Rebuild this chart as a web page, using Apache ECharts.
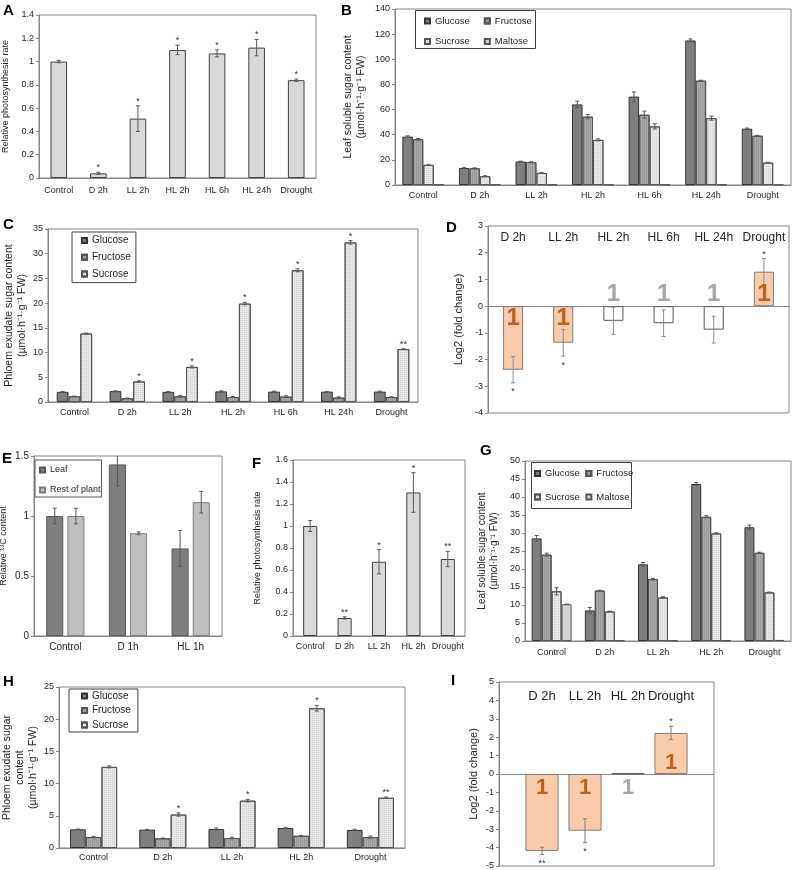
<!DOCTYPE html>
<html><head><meta charset="utf-8">
<script src="https://cdn.jsdelivr.net/npm/echarts@6/dist/echarts.min.js"></script>
<style>html,body{margin:0;padding:0;background:#fff}#c{width:793px;height:870px}</style>
</head><body><div id="c"></div><script>
// ---------------- DATA ----------------
const catsA = ['Control','D 2h','LL 2h','HL 2h','HL 6h','HL 24h','Drought'];
const rateA = [1.00,0.04,0.51,1.10,1.07,1.12,0.84];
const rateAErr = [0.01,0.01,0.11,0.04,0.03,0.07,0.01];
const rateASig = ['','*','*','*','*','*','*'];

const catsB = ['Control','D 2h','LL 2h','HL 2h','HL 6h','HL 24h','Drought'];
const glcB = [38.5,13.5,18.7,64.1,70.3,115.0,44.8];
const glcBErr = [0.6,0.3,0.3,2.5,3.7,1.2,0.5];
const fruB = [36.4,13.3,18.2,54.4,55.9,83.0,39.2];
const fruBErr = [0.6,0.3,0.3,1.7,2.9,0.3,0.3];
const sucB = [16.0,7.0,9.6,35.9,46.6,53.2,17.8];
const sucBErr = [0.5,0.4,0.2,0.8,2.1,1.6,0.3];
const malB = [0.4,0.4,0.4,0.4,0.4,0.4,0.3];

const catsC = ['Control','D 2h','LL 2h','HL 2h','HL 6h','HL 24h','Drought'];
const glcC = [2.05,2.2,2.05,2.15,2.1,2.1,2.1];
const glcCErr = [0.05,0.05,0.05,0.1,0.1,0.05,0.1];
const fruC = [1.15,0.75,1.15,1.0,1.1,0.9,1.0];
const fruCErr = [0.05,0.05,0.2,0.1,0.15,0.15,0.05];
const sucC = [13.85,4.15,7.1,19.9,26.65,32.3,10.7];
const sucCErr = [0.1,0.15,0.2,0.25,0.3,0.35,0.05];
const sucCSig = ['','*','*','*','*','*','**'];

const catsD = ['D 2h','LL 2h','HL 2h','HL 6h','HL 24h','Drought'];
const logD = [-2.38,-1.37,-0.55,-0.64,-0.88,1.29];
const logDErr = [0.49,0.5,0.51,0.5,0.5,0.49];
const logDSig = ['*','*','','','','*'];

const catsE = ['Control','D 1h','HL 1h'];
const leafE = [1.0,1.43,0.73];
const leafEErr = [0.065,0.18,0.15];
const restE = [1.0,0.856,1.115];
const restEErr = [0.065,0.012,0.09];

const catsF = ['Control','D 2h','LL 2h','HL 2h','Drought'];
const rateF = [1.0,0.164,0.675,1.305,0.70];
const rateFErr = [0.05,0.01,0.11,0.18,0.07];
const rateFSig = ['','**','*','*','**'];

const catsG = ['Control','D 2h','LL 2h','HL 2h','Drought'];
const glcG = [28.5,8.5,21.3,43.6,31.6];
const glcGErr = [0.8,0.8,0.5,0.4,0.6];
const fruG = [24.0,14.0,17.2,34.5,24.5];
const fruGErr = [0.4,0.1,0.2,0.3,0.15];
const sucG = [13.8,8.2,12.1,29.9,13.5];
const sucGErr = [1.0,0.1,0.2,0.15,0.1];
const malG = [10.2,0.2,0.2,0.2,0.3];
const malGErr = [0.05,0,0,0,0];

const catsH = ['Control','D 2h','LL 2h','HL 2h','Drought'];
const glcH = [2.9,2.85,2.95,3.1,2.8];
const glcHErr = [0.05,0.05,0.15,0.05,0.1];
const fruH = [1.7,1.5,1.55,1.9,1.7];
const fruHErr = [0.1,0.05,0.1,0.05,0.15];
const sucH = [12.6,5.2,7.35,21.7,7.8];
const sucHErr = [0.15,0.25,0.2,0.45,0.1];
const sucHSig = ['','*','*','*','**'];

const catsI = ['D 2h','LL 2h','HL 2h','Drought'];
const logI = [-4.18,-3.08,0.03,2.23];
const logIErr = [0.2,0.65,0,0.36];
const logISig = ['**','*','','*'];

// ---------------- STYLE ----------------
const FONT = '"Liberation Sans", Arial, sans-serif';
const AX = '#868686';
const TXT = '#262626';
const ST = {
  single:{color:'#d9d9d9', borderColor:'#404040', borderWidth:1},
  glc:{color:'#7f7f7f', borderColor:'#333333', borderWidth:1},
  fru:{color:'#ababab', borderColor:'#555555', borderWidth:1,
       decal:{symbol:'rect', symbolSize:1, dashArrayX:[1,1], dashArrayY:[4,0], color:'rgba(0,0,0,0.10)'}},
  suc:{color:'#e8e8e8', borderColor:'#555555', borderWidth:1,
       decal:{symbol:'rect', symbolSize:1, dashArrayX:[1,1], dashArrayY:[1,1], color:'rgba(0,0,0,0.10)'}},
  mal:{color:'#d4d4d4', borderColor:'#555555', borderWidth:1},
  leaf:{color:'#7f7f7f', borderColor:'#595959', borderWidth:1},
  rest:{color:'#bfbfbf', borderColor:'#7f7f7f', borderWidth:1},
  fill:{color:'#f8cbad', borderColor:'#8a7b70', borderWidth:1},
  empty:{color:'#ffffff', borderColor:'#595959', borderWidth:1}
};

const grids=[], xAxes=[], yAxes=[], series=[], legends=[], graphics=[];

function errSeries(xi, yi, vals, errs, sigs, n, i, cat, gap, idxOff, errColor){
  return {
    type:'custom', xAxisIndex:xi, yAxisIndex:yi, clip:true, silent:true, z:5,
    data: vals.map((v,k)=>[k+idxOff, v, errs?errs[k]:0]),
    renderItem(params, api){
      const k=api.value(0), v=api.value(1), e=api.value(2);
      const band = api.size([1,0])[0];
      const groupW = band*(1-cat);
      const w = groupW/(n+(n-1)*gap);
      const off = -groupW/2 + i*w*(1+gap) + w/2;
      const pT = api.coord([k, v+e]), pB = api.coord([k, v-e]);
      const x = pT[0]+off;
      const st = {stroke: errColor||'#595959', lineWidth:1};
      const ch=[];
      if(e>0){
        ch.push({type:'line', shape:{x1:x,y1:pT[1],x2:x,y2:pB[1]}, style:st});
        ch.push({type:'line', shape:{x1:x-2,y1:pT[1],x2:x+2,y2:pT[1]}, style:st});
        ch.push({type:'line', shape:{x1:x-2,y1:pB[1],x2:x+2,y2:pB[1]}, style:st});
      }
      const s = sigs ? sigs[params.dataIndex] : '';
      if(s){
        const neg = v<0;
        ch.push({type:'text', x:x, y: neg? pB[1]+9 : pT[1]-4.5,
          style:{text:s, fontSize:9, fontFamily:FONT, fill:'#333', align:'center', verticalAlign:'middle'}});
      }
      return {type:'group', children:ch};
    }
  };
}

function iconSeries(xi, yi, vals, sigs, idxOff, fs, nsAbove, offBelow, offAbove){
  return {type:'custom', xAxisIndex:xi, yAxisIndex:yi, silent:true, z:6, clip:false,
    data: vals.map((v,k)=>[k+idxOff, v]),
    renderItem(params, api){
      const k=api.value(0), v=api.value(1);
      const sig = !!sigs[params.dataIndex];
      const below = sig ? v<0 : !nsAbove;
      const p0 = api.coord([k,0]);
      return {type:'text', x:p0[0], y: below? p0[1]+offBelow : p0[1]-offAbove,
        style:{text:'1', fontSize:fs, fontWeight:'bold', fontFamily:FONT,
          fill: sig?'#c0601a':'#a6a6a6', align:'center', verticalAlign:'middle'}};
    }};
}

function addPanel(p){
  const gi=grids.length;
  grids.push({left:p.box[0], top:p.box[1], width:p.box[2]-p.box[0], height:p.box[3]-p.box[1],
    show:true, borderColor:AX, borderWidth:1, backgroundColor:'transparent', containLabel:false, outerBoundsMode:'none'});
  const bg = p.boundaryGap!==false;
  const xi=xAxes.length;
  xAxes.push({type:'category', gridIndex:gi, data:p.cats, boundaryGap:bg,
    axisLine:{show:true, onZero:true, lineStyle:{color:AX, width:1}}, axisTick:{show:false},
    axisLabel:{show:!p.top, interval:0, fontSize:p.xfs||9, color:TXT, fontFamily:FONT, margin:p.xm||6.5},
    splitLine:{show:false}});
  if(p.top){
    xAxes.push({type:'category', gridIndex:gi, position:'top', data:p.cats, boundaryGap:bg,
      axisLine:{show:false,onZero:false}, axisTick:{show:false}, splitLine:{show:false},
      axisLabel:{inside:true, interval:0, fontSize:p.topFs, color:TXT, fontFamily:FONT, margin:p.topM}});
  }
  const yi=yAxes.length;
  yAxes.push({type:'value', gridIndex:gi, min:p.y[0], max:p.y[1], interval:p.y[2],
    axisLine:{show:true, lineStyle:{color:AX}}, axisTick:{show:true, length:3, lineStyle:{color:AX}},
    splitLine:{show:false}, axisLabel:{fontSize:p.yfs||9, color:TXT, fontFamily:FONT, margin:5},
    name:p.yName, nameLocation:'middle', nameGap:p.nameGap,
    nameTextStyle:{fontSize:p.nameFs, color:TXT, fontFamily:FONT, lineHeight:Math.round(p.nameFs*1.2)}});
  const n=p.series.length;
  p.series.forEach((s,i)=>{
    series.push({type:'bar', name:s.name, xAxisIndex:xi, yAxisIndex:yi, data:s.data,
      barGap:(p.gap||0)*100+'%', barCategoryGap:p.cat*100+'%', itemStyle:s.style, silent:true, z:2});
    series.push(errSeries(xi, yi, s.raw, s.err, s.sig, n, i, p.cat, p.gap||0, p.idxOff||0, p.errColor));
  });
  return {xi, yi};
}

// A
addPanel({box:[39,15,316,178], cats:catsA, y:[0,1.4,0.2], cat:0.58, xm:8, nameGap:28, nameFs:9,
  yName:'Relative photosynthesis rate',
  series:[{name:'Rate', data:rateA, raw:rateA, err:rateAErr, sig:rateASig, style:ST.single}]});
// B
addPanel({box:[395,9,791,185], cats:catsB, y:[0,140,20], cat:0.26, gap:0, nameGap:27, nameFs:10.5,
  yName:'Leaf soluble sugar content\n(µmol·h⁻¹·g⁻¹ FW)',
  series:[
    {name:'Glucose', data:glcB, raw:glcB, err:glcBErr, style:ST.glc},
    {name:'Fructose', data:fruB, raw:fruB, err:fruBErr, style:ST.fru},
    {name:'Sucrose', data:sucB, raw:sucB, err:sucBErr, style:ST.suc},
    {name:'Maltose', data:malB, raw:malB, err:null, style:ST.mal}]});
// C
addPanel({box:[48,229,418,402], cats:catsC, y:[0,35,5], cat:0.33, gap:0, nameGap:18, nameFs:10.5,
  yName:'Phloem exudate sugar content\n(µmol·h⁻¹·g⁻¹ FW)',
  series:[
    {name:'Glucose', data:glcC, raw:glcC, err:glcCErr, style:ST.glc},
    {name:'Fructose', data:fruC, raw:fruC, err:fruCErr, style:ST.fru},
    {name:'Sucrose', data:sucC, raw:sucC, err:sucCErr, sig:sucCSig, style:ST.suc}]});
// D
const dAx = addPanel({box:[488,226,789,413], cats:catsD, y:[-4,3,1], cat:0.6, nameGap:23, nameFs:11,
  top:true, topFs:12, topM:6, errColor:'#8c8c8c',
  yName:'Log2 (fold change)',
  series:[{name:'Log2 D', data:logD.map((v,k)=>({value:v, itemStyle: logDSig[k]?ST.fill:ST.empty})),
    raw:logD, err:logDErr, sig:logDSig, style:ST.empty}]});
series.push(iconSeries(dAx.xi, dAx.yi, logD, logDSig, 0, 24, true, 12, 12));
// E
addPanel({box:[34,456,222,636], cats:catsE, y:[0,1.5,0.5], cat:0.39, gap:0.24, nameGap:25, nameFs:9, xfs:10, yfs:10,
  yName:'Relative ¹³C content',
  series:[
    {name:'Leaf', data:leafE, raw:leafE, err:leafEErr, style:ST.leaf},
    {name:'Rest of plant', data:restE, raw:restE, err:restEErr, style:ST.rest}]});
// F
addPanel({box:[293,460,465,636], cats:catsF, y:[0,1.6,0.2], cat:0.59, nameGap:30, nameFs:9,
  yName:'Relative photosynthesis rate',
  series:[{name:'RateF', data:rateF, raw:rateF, err:rateFErr, sig:rateFSig, style:ST.single}]});
// G
addPanel({box:[525,461,791,641], cats:catsG, y:[0,50,5], cat:0.25, gap:0, nameGap:25, nameFs:10, xm:7,
  yName:'Leaf soluble sugar content\n(µmol·h⁻¹·g⁻¹ FW)',
  series:[
    {name:'Glucose', data:glcG, raw:glcG, err:glcGErr, style:ST.glc},
    {name:'Fructose', data:fruG, raw:fruG, err:fruGErr, style:ST.fru},
    {name:'Sucrose', data:sucG, raw:sucG, err:sucGErr, style:ST.suc},
    {name:'Maltose', data:malG, raw:malG, err:malGErr, style:ST.mal}]});
// H
addPanel({box:[59,687,405,848], cats:catsH, y:[0,25,5], cat:0.32, gap:0, nameGap:17, nameFs:10.5, xm:5.5,
  yName:'Phloem exudate sugar\ncontent\n(µmol·h⁻¹·g⁻¹ FW)',
  series:[
    {name:'Glucose', data:glcH, raw:glcH, err:glcHErr, style:ST.glc},
    {name:'Fructose', data:fruH, raw:fruH, err:fruHErr, style:ST.fru},
    {name:'Sucrose', data:sucH, raw:sucH, err:sucHErr, sig:sucHSig, style:ST.suc}]});
// I (category axis padded with empty slots at both ends, boundaryGap false)
const catsIAxis = [''].concat(catsI, ['']);
const iAx = addPanel({box:[499,682,714,866], cats:catsIAxis, boundaryGap:false, idxOff:1, y:[-5,5,1], cat:0.23,
  nameGap:19, nameFs:11, top:true, topFs:13, topM:8, errColor:'#7f7f7f',
  yName:'Log2 (fold change)',
  series:[{name:'Log2 I', data:['-'].concat(logI.map((v,k)=>({value:v, itemStyle: logISig[k]?ST.fill:ST.empty})), ['-']),
    raw:logI, err:logIErr, sig:logISig, style:ST.empty}]});
series.push(iconSeries(iAx.xi, iAx.yi, logI, logISig, 1, 22, false, 13.5, 11));

// Legends
const legText = (fs)=>({fontSize:fs, color:TXT, fontFamily:FONT, lineHeight:12});
const legBase = {icon:'rect', itemWidth:5, itemHeight:5, selectedMode:false, orient:'horizontal', padding:0};
legends.push(Object.assign({}, legBase, {left:424, top:15, itemGap:14, data:['Glucose','Fructose'], textStyle:legText(9.5)}));
legends.push(Object.assign({}, legBase, {left:424, top:35.5, itemGap:14, data:['Sucrose','Maltose'], textStyle:legText(9.5)}));
legends.push(Object.assign({}, legBase, {left:534, top:467.5, itemGap:5.5, data:['Glucose','Fructose'], textStyle:legText(9.5)}));
legends.push(Object.assign({}, legBase, {left:534, top:491, itemGap:5.5, data:['Sucrose','Maltose'], textStyle:legText(9.5)}));
legends.push(Object.assign({}, legBase, {orient:'vertical', left:72, top:232, padding:[2.5,5,2.5,9], itemGap:4.8,
  borderColor:'#404040', borderWidth:1, data:['Glucose','Fructose','Sucrose'], textStyle:legText(10)}));
legends.push(Object.assign({}, legBase, {orient:'vertical', left:35, top:460, padding:[4,1,1,4], itemGap:8,
  borderColor:'#595959', borderWidth:1, data:['Leaf','Rest of plant'], textStyle:legText(9)}));
legends.push(Object.assign({}, legBase, {orient:'vertical', left:69, top:689, padding:[1,7,1,12], itemGap:2.5,
  borderColor:'#404040', borderWidth:1, data:['Glucose','Fructose','Sucrose'], textStyle:legText(10)}));

graphics.push({type:'rect', shape:{x:415.5, y:10.5, width:120, height:38}, style:{fill:'none', stroke:'#404040', lineWidth:1}, silent:true});
graphics.push({type:'rect', shape:{x:531.5, y:462.5, width:100, height:46}, style:{fill:'none', stroke:'#404040', lineWidth:1}, silent:true});

// Panel letters
[['A',3,3],['B',341,3],['C',3,217],['D',446,220],['E',2,451],['F',252,456],['G',480,443],['H',3,674],['I',451,673]]
  .forEach(([t,x,y])=>graphics.push({type:'text', x:x, y:y, silent:true,
    style:{text:t, fontSize:15, fontWeight:'bold', fontFamily:FONT, fill:'#000', verticalAlign:'top'}}));

const chart = echarts.init(document.getElementById('c'), null, {renderer:'canvas'});
chart.setOption({
  animation:false,
  backgroundColor:'#ffffff',
  textStyle:{fontFamily:FONT},
  grid:grids, xAxis:xAxes, yAxis:yAxes, series:series, legend:legends, graphic:graphics
});
</script></body></html>
